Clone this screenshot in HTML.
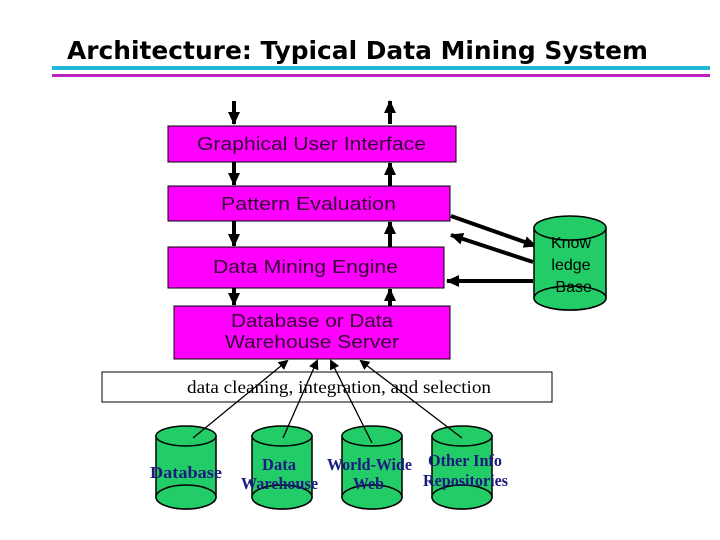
<!DOCTYPE html>
<html><head><meta charset="utf-8"><style>
html,body{margin:0;padding:0;background:#fff;}
svg{display:block;}
</style></head><body>
<svg width="720" height="540" viewBox="0 0 720 540" xmlns="http://www.w3.org/2000/svg">
<defs>
<marker id="ah" markerWidth="10" markerHeight="10" refX="8" refY="5" orient="auto" markerUnits="userSpaceOnUse"><path d="M0,0 L10,5 L0,10 z" fill="#000"/></marker>
<marker id="ahb" markerWidth="14" markerHeight="14" refX="12" refY="7" orient="auto" markerUnits="userSpaceOnUse"><path d="M0,1 L13,7 L0,13 z" fill="#000"/></marker>
</defs>
<text x="67" y="59" textLength="581" lengthAdjust="spacingAndGlyphs" font-family="DejaVu Sans, sans-serif" font-weight="bold" font-size="25" fill="#000">Architecture: Typical Data Mining System</text>
<rect x="52" y="66" width="658" height="4" fill="#22b8d8"/>
<rect x="52" y="74" width="658" height="3" fill="#c020c0"/>

<g stroke="#000" stroke-width="4" fill="none">
<line x1="234" y1="101" x2="234" y2="124" marker-end="url(#ahb)"/>
<line x1="390" y1="124" x2="390" y2="101" marker-end="url(#ahb)"/>
<line x1="234" y1="162" x2="234" y2="185" marker-end="url(#ahb)"/>
<line x1="390" y1="186" x2="390" y2="163" marker-end="url(#ahb)"/>
<line x1="234" y1="221" x2="234" y2="246" marker-end="url(#ahb)"/>
<line x1="390" y1="247" x2="390" y2="222" marker-end="url(#ahb)"/>
<line x1="234" y1="288" x2="234" y2="305" marker-end="url(#ahb)"/>
<line x1="390" y1="306" x2="390" y2="289" marker-end="url(#ahb)"/>
<line x1="451" y1="216" x2="536" y2="246" marker-end="url(#ahb)"/>
<line x1="533" y1="262" x2="451" y2="235" marker-end="url(#ahb)"/>
<line x1="533" y1="281" x2="447" y2="281" marker-end="url(#ahb)"/>
</g>

<g stroke="#000" stroke-width="1">
<rect x="168" y="126" width="288" height="36" fill="#ff00ff"/>
<rect x="168" y="186" width="282" height="35" fill="#ff00ff"/>
<rect x="168" y="247" width="276" height="41" fill="#ff00ff"/>
<rect x="174" y="306" width="276" height="53" fill="#ff00ff"/>
<rect x="102" y="372" width="450" height="30" fill="#fff"/>
</g>
<g font-family="Liberation Sans, sans-serif" font-size="18" fill="#330033" lengthAdjust="spacingAndGlyphs">
<text x="197" y="150" textLength="229" lengthAdjust="spacingAndGlyphs">Graphical User Interface</text>
<text x="221" y="210" textLength="175" lengthAdjust="spacingAndGlyphs">Pattern Evaluation</text>
<text x="213" y="273" textLength="185" lengthAdjust="spacingAndGlyphs">Data Mining Engine</text>
<text x="231" y="327" textLength="162" lengthAdjust="spacingAndGlyphs">Database or Data</text>
<text x="225" y="348" textLength="174" lengthAdjust="spacingAndGlyphs">Warehouse Server</text>
</g>
<text x="187" y="393" textLength="304" lengthAdjust="spacingAndGlyphs" font-family="Liberation Serif, serif" font-size="18" fill="#000">data cleaning, integration, and selection</text>

<g stroke="#000" stroke-width="1.5" fill="#22cc66">
<path d="M534,228 L534,298 A36,12 0 0 0 606,298 L606,228 Z"/>
<ellipse cx="570" cy="298" rx="36" ry="12"/>
<ellipse cx="570" cy="228" rx="36" ry="12"/>
</g>
<g font-family="Liberation Sans, sans-serif" font-size="16" fill="#000" text-anchor="middle">
<text x="571" y="248">Know</text>
<text x="571" y="270">ledge</text>
<text x="571" y="292">-Base</text>
</g>

<g stroke="#000" stroke-width="1.5" fill="#22cc66">
<path d="M156,436 L156,497 A30,12 0 0 0 216,497 L216,436 Z"/><ellipse cx="186" cy="497" rx="30" ry="12"/><ellipse cx="186" cy="436" rx="30" ry="10"/>
<path d="M252,436 L252,497 A30,12 0 0 0 312,497 L312,436 Z"/><ellipse cx="282" cy="497" rx="30" ry="12"/><ellipse cx="282" cy="436" rx="30" ry="10"/>
<path d="M342,436 L342,497 A30,12 0 0 0 402,497 L402,436 Z"/><ellipse cx="372" cy="497" rx="30" ry="12"/><ellipse cx="372" cy="436" rx="30" ry="10"/>
<path d="M432,436 L432,497 A30,12 0 0 0 492,497 L492,436 Z"/><ellipse cx="462" cy="497" rx="30" ry="12"/><ellipse cx="462" cy="436" rx="30" ry="10"/>
</g>
<g stroke="#000" stroke-width="1.3">
<line x1="193" y1="438" x2="287" y2="361" marker-end="url(#ah)"/>
<line x1="283" y1="438" x2="317" y2="361" marker-end="url(#ah)"/>
<line x1="372" y1="443" x2="331" y2="361" marker-end="url(#ah)"/>
<line x1="462" y1="438" x2="361" y2="361" marker-end="url(#ah)"/>
</g>
<g font-family="Liberation Serif, serif" font-weight="bold" font-size="17" fill="#1a1a80">
<text x="150" y="478" textLength="72" lengthAdjust="spacingAndGlyphs">Database</text>
<text x="262" y="470" textLength="34" lengthAdjust="spacingAndGlyphs">Data</text>
<text x="241" y="489" textLength="77" lengthAdjust="spacingAndGlyphs">Warehouse</text>
<text x="327" y="470" textLength="85" lengthAdjust="spacingAndGlyphs">World-Wide</text>
<text x="353" y="489" textLength="31" lengthAdjust="spacingAndGlyphs">Web</text>
<text x="428" y="466" textLength="74" lengthAdjust="spacingAndGlyphs">Other Info</text>
<text x="423" y="486" textLength="85" lengthAdjust="spacingAndGlyphs">Repositories</text>
</g>
</svg>
</body></html>
